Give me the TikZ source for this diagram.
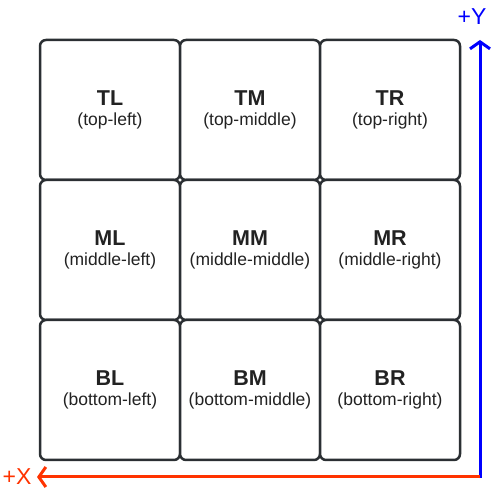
\documentclass[tikz,border=0pt]{standalone}
\usepackage{fontspec}
\setmainfont{Liberation Sans}
\usetikzlibrary{arrows.meta}

\definecolor{cellline}{HTML}{2B2F33}
\definecolor{celltext}{HTML}{222222}
\definecolor{axisred}{HTML}{FF3300}

\tikzset{
  cell/.style={draw=cellline, line width=2.5pt, fill=white, rounded corners=6pt,
    minimum width=140pt, minimum height=140pt, inner sep=0pt, align=center,
    text=celltext},
  axis/.style={line width=3pt, -{Straight Barb[length=7pt,width=20pt]}},
}
\newcommand{\celltext}[2]{\fontsize{21.5}{24}\selectfont\bfseries #1\\[6.5pt]
  \fontsize{17.5}{20.5}\mdseries\selectfont #2}

\begin{document}
\begin{tikzpicture}[x=1pt,y=1pt]
    \useasboundingbox (0,0) rectangle (500,500);

    % Top row
    \node[cell] (tl) at (110,390) {\celltext{TL}{(top-left)}};
    \node[cell] (tm) at (250,390) {\celltext{TM}{(top-middle)}};
    \node[cell] (tr) at (390,390) {\celltext{TR}{(top-right)}};

    % Middle row
    \node[cell] (ml) at (110,250) {\celltext{ML}{(middle-left)}};
    \node[cell] (mm) at (250,250) {\celltext{MM}{(middle-middle)}};
    \node[cell] (mr) at (390,250) {\celltext{MR}{(middle-right)}};

    % Bottom row
    \node[cell] (bl) at (110,110) {\celltext{BL}{(bottom-left)}};
    \node[cell] (bm) at (250,110) {\celltext{BM}{(bottom-middle)}};
    \node[cell] (br) at (390,110) {\celltext{BR}{(bottom-right)}};

    % Axes
    \coordinate (origin) at (480,23);
    \coordinate (ytip) at (480,460);
    \coordinate (xtip) at (37,23);
    \draw[axis, blue] (origin |- 0,21.5) -- (ytip);
    \draw[axis, axisred] (origin) -- (xtip);
    \node[blue, font=\fontsize{23}{25}\selectfont] (ylab) at (472,483) {+Y};
    \node[axisred, font=\fontsize{23}{25}\selectfont] (xlab) at (17,23) {+X};
\end{tikzpicture}
\end{document}
